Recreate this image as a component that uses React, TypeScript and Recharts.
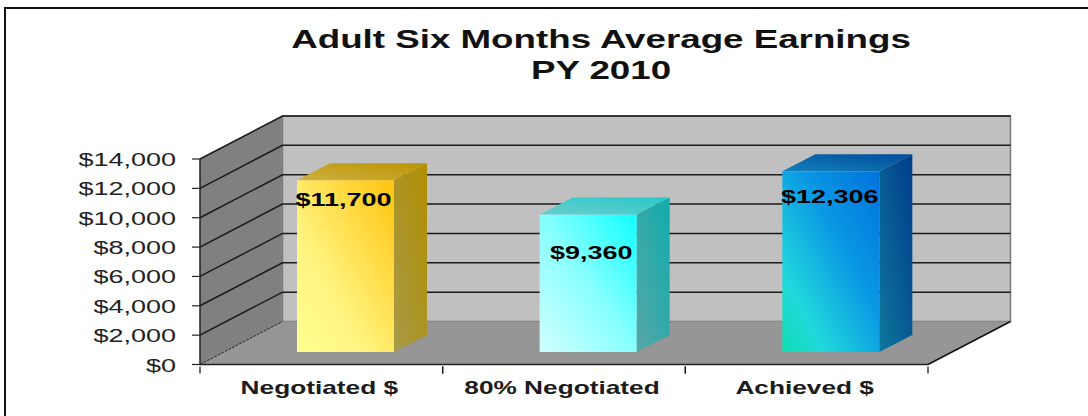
import React from 'react';
import { BarChart, Bar, XAxis, YAxis, ReferenceArea, LabelList } from 'recharts';

const categories = ['Negotiated $', '80% Negotiated', 'Achieved $'];
const earnings = [11700, 9360, 12306];
const yTicks = [0, 2000, 4000, 6000, 8000, 10000, 12000, 14000];
const titleLines = ['Adult Six Months Average Earnings', 'PY 2010'];

const rows = categories.map((name, i) => ({ name, value: earnings[i] }));

// drawing constants
const W = 1088, H = 416;
const DEPTH_X = 82.5, DEPTH_Y = 43;
const BAR_SHIFT_X = 24, BAR_SHIFT_Y = 12.5, BAR_DX = 33, BAR_DY = 17;
const FONT = '"Liberation Sans", Arial, sans-serif';
const labelNudge = [{ dx: -2, dy: 20 }, { dx: 3, dy: 38 }, { dx: -1, dy: 26 }];

const frontStops = [
  [['0%', '#FFFF90'], ['35%', '#FFF480'], ['100%', '#FFC40E']],
  [['0%', '#D2FFFF'], ['50%', '#88FFFF'], ['100%', '#10FFFF']],
  [['0%', '#10DDB0'], ['22%', '#20D8DC'], ['60%', '#0A98E4'], ['100%', '#0072DC']],
];
const sideStops = [
  [['0%', '#A89A48'], ['100%', '#B08E00']],
  [['0%', '#58A6A6'], ['100%', '#10ACAC']],
  [['0%', '#0F789C'], ['100%', '#003C8C']],
];
const topStops = [
  [['0%', '#CDB040'], ['100%', '#BC9400']],
  [['0%', '#6ACDCD'], ['100%', '#28C8C8']],
  [['0%', '#1480B8'], ['100%', '#004C9C']],
];

const Grad = ({ id, stops }: any) => (
  <linearGradient id={id} x1="0" y1="1" x2="1" y2="0">
    {stops.map((s: string[]) => <stop key={s[0]} offset={s[0]} stopColor={s[1]} />)}
  </linearGradient>
);

const WallsShape = (p: any) => {
  const { x, y, width: w, height: h } = p;
  const b = y + h;
  return (
    <g>
      <polygon points={`${x + DEPTH_X},${y - DEPTH_Y} ${x + w + DEPTH_X},${y - DEPTH_Y} ${x + w + DEPTH_X},${b - DEPTH_Y} ${x + DEPTH_X},${b - DEPTH_Y}`} fill="#C0C0C0" stroke="#7A7A7A" strokeWidth={1.5} />
      <polygon points={`${x},${y} ${x + DEPTH_X},${y - DEPTH_Y} ${x + DEPTH_X},${b - DEPTH_Y} ${x},${b}`} fill="#808080" />
      <polygon points={`${x},${b} ${x + DEPTH_X},${b - DEPTH_Y} ${x + w + DEPTH_X},${b - DEPTH_Y} ${x + w},${b}`} fill="#969696" />
      <line x1={x} y1={b} x2={x + DEPTH_X} y2={b - DEPTH_Y} stroke="#222" strokeWidth={1} strokeDasharray="3 1" />
      <line x1={x + w} y1={b} x2={x + w + DEPTH_X} y2={b - DEPTH_Y} stroke="#111" strokeWidth={1.5} />
    </g>
  );
};

const GridShape = (p: any) => {
  const { x, y, width: w } = p;
  return (
    <path
      d={`M${x},${y} L${x + DEPTH_X},${y - DEPTH_Y} H${x + w + DEPTH_X}`}
      fill="none"
      stroke="#1A1A1A"
      strokeWidth={1.5}
    />
  );
};

const Bar3D = (p: any) => {
  const { x, y, width: w, height: h, index: i } = p;
  const X = x + BAR_SHIFT_X, Y = y - BAR_SHIFT_Y, R = X + w, B = Y + h;
  return (
    <g>
      <polygon points={`${X},${Y} ${X + BAR_DX},${Y - BAR_DY} ${R + BAR_DX},${Y - BAR_DY} ${R},${Y}`} fill={`url(#top${i})`} />
      <polygon points={`${R},${Y} ${R + BAR_DX},${Y - BAR_DY} ${R + BAR_DX},${B - BAR_DY} ${R},${B}`} fill={`url(#side${i})`} />
      <rect x={X} y={Y} width={w} height={h} fill={`url(#front${i})`} />
    </g>
  );
};

const money = (v: number) => '$' + v.toLocaleString('en-US');

const Wide = ({ x, y, sx = 1.5, size, weight, fill = '#222', anchor = 'middle', children }: any) => (
  <text
    transform={`translate(${x},${y}) scale(${sx},1)`}
    textAnchor={anchor}
    fontFamily={FONT}
    fontSize={size}
    fontWeight={weight}
    fill={fill}
  >
    {children}
  </text>
);

const YTick = ({ x, y, payload }: any) => (
  <Wide x={x - 14} y={y + 7} size={18} anchor="end">{money(payload.value)}</Wide>
);

const XTick = ({ x, y, payload }: any) => {
  const half = payload.offset || 121.33;
  return (
    <g>
      <line x1={x - half} x2={x - half} y1={y - 8} y2={y - 1} stroke="#111" strokeWidth={1.2} />
      <line x1={x + half} x2={x + half} y1={y - 8} y2={y - 1} stroke="#111" strokeWidth={1.2} />
      <Wide x={x - 2} y={y + 19} size={17.5} weight="bold" fill="#1c1c1c">{payload.value}</Wide>
    </g>
  );
};

const ValueLabel = (p: any) => {
  const { x, y, width: w, value, index: i } = p;
  const n = labelNudge[i];
  return (
    <Wide x={x + BAR_SHIFT_X + w / 2 + n.dx} y={y - BAR_SHIFT_Y + n.dy + 6} size={18} weight="bold" fill="#000">
      {money(Number(value))}
    </Wide>
  );
};

export default function App() {
  return (
    <div style={{ position: 'absolute', left: 0, top: 0, width: W, height: H, background: '#fff' }}>
      <div style={{ position: 'absolute', left: 4, top: 7, right: 0, bottom: 0, borderLeft: '2.5px solid #111', borderTop: '2.5px solid #111' }} />
      <div style={{ position: 'absolute', left: 0, top: 0 }}>
        <BarChart width={W} height={H} data={rows} margin={{ top: 159, right: 160, bottom: 0, left: 0 }} barSize={97}>
          <defs>
            {categories.map((_, i) => (
              <React.Fragment key={i}>
                <Grad id={`front${i}`} stops={frontStops[i]} />
                <Grad id={`side${i}`} stops={sideStops[i]} />
                <Grad id={`top${i}`} stops={topStops[i]} />
              </React.Fragment>
            ))}
          </defs>
          <XAxis
            dataKey="name"
            height={51.5}
            interval={0}
            axisLine={{ stroke: '#222', strokeWidth: 1.5 }}
            tickLine={false}
            tickSize={8}
            tick={<XTick />}
          />
          <YAxis
            width={200}
            domain={[0, 14000]}
            ticks={yTicks}
            interval={0}
            axisLine={{ stroke: '#222', strokeWidth: 1.5 }}
            tickLine={{ stroke: '#222', strokeWidth: 1.2 }}
            tickSize={8}
            tick={<YTick />}
          />
          <ReferenceArea y1={0} y2={14000} shape={<WallsShape />} />
          {yTicks.slice(1).map((t, i) => (
            <ReferenceArea key={t} y1={yTicks[i]} y2={t} shape={<GridShape />} />
          ))}
          <Bar dataKey="value" isAnimationActive={false} shape={<Bar3D />}>
            <LabelList dataKey="value" content={<ValueLabel />} />
          </Bar>
          <Wide x={601} y={48} sx={1.47} size={25} weight="bold" fill="#111">{titleLines[0]}</Wide>
          <Wide x={601} y={79} sx={1.47} size={25} weight="bold" fill="#111">{titleLines[1]}</Wide>
        </BarChart>
      </div>
    </div>
  );
}
